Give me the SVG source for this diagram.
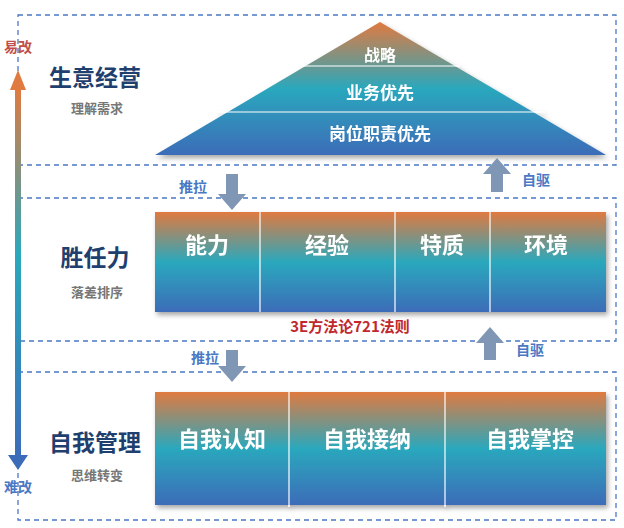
<svg xmlns="http://www.w3.org/2000/svg" width="624" height="528" viewBox="0 0 624 528">
<style>
.dash{fill:none;stroke:#4a78c4;stroke-width:1.3;stroke-dasharray:5,4}
.w{fill:#fff;font-family:"Noto Sans CJK SC",sans-serif;font-weight:bold;text-anchor:middle}
.t{font-family:"Noto Sans CJK SC",sans-serif;font-weight:bold;text-anchor:middle}
.div{stroke:#fff;stroke-width:1.2}
</style>
<defs>
<linearGradient id="g" x1="0" y1="0" x2="0" y2="1">
<stop offset="0" stop-color="#e07a40"/><stop offset="0.5" stop-color="#2aa8bd"/><stop offset="1" stop-color="#3c6cb8"/>
</linearGradient>
<linearGradient id="gv" x1="0" y1="0" x2="0" y2="1">
<stop offset="0" stop-color="#e07a40"/><stop offset="0.45" stop-color="#2aa8bd"/><stop offset="1" stop-color="#3c6cb8"/>
</linearGradient>
<filter id="sh" x="-5%" y="-5%" width="110%" height="115%"><feDropShadow dx="2" dy="3" stdDeviation="2.5" flood-opacity="0.35"/></filter>
</defs>
<g id="frames">
<rect class="dash" x="18" y="15" width="598" height="150"/>
<rect class="dash" x="18" y="198" width="598" height="143"/>
<rect class="dash" x="18" y="372" width="598" height="148"/>
</g>
<g id="axis">
<rect x="15" y="88" width="6" height="372" fill="url(#gv)"/>
<polygon points="10,90 18,70 26,90" fill="#e07a40"/>
<polygon points="8,455 18,470 28,455" fill="#3c6cb8"/>
<text class="t" x="18" y="52" font-size="14" fill="#c0504d">易改</text>
<text class="t" x="18" y="492" font-size="14" fill="#4a78c4">难改</text>
</g>
<g id="labels">
<text class="t" x="95" y="86" font-size="23" fill="#1f3f6e">生意经营</text>
<text class="t" x="97" y="113" font-size="13" fill="#777">理解需求</text>
<text class="t" x="95" y="266" font-size="23" fill="#1f3f6e">胜任力</text>
<text class="t" x="97" y="297" font-size="13" fill="#777">落差排序</text>
<text class="t" x="95" y="451" font-size="23" fill="#1f3f6e">自我管理</text>
<text class="t" x="97" y="480" font-size="13" fill="#777">思维转变</text>
</g>
<g id="pyramid" filter="url(#sh)">
<polygon points="380,22 606,155 155,155" fill="url(#g)"/>
<line class="div" x1="300" y1="66" x2="460" y2="66"/>
<line class="div" x1="216" y1="112" x2="545" y2="112"/>
<text class="w" x="380" y="61" font-size="16">战略</text>
<text class="w" x="380" y="99" font-size="17">业务优先</text>
<text class="w" x="380" y="140" font-size="17">岗位职责优先</text>
</g>
<g id="competence" filter="url(#sh)">
<rect x="155" y="212" width="451" height="100" fill="url(#g)"/>
<line class="div" x1="260" y1="212" x2="260" y2="312"/>
<line class="div" x1="395" y1="212" x2="395" y2="312"/>
<line class="div" x1="490" y1="212" x2="490" y2="312"/>
<text class="w" x="207" y="253" font-size="22">能力</text>
<text class="w" x="327" y="253" font-size="22">经验</text>
<text class="w" x="442" y="253" font-size="22">特质</text>
<text class="w" x="546" y="253" font-size="22">环境</text>
</g>
<text class="t" x="350" y="332" font-size="15" fill="#c0282d">3E方法论721法则</text>
<g id="self" filter="url(#sh)">
<rect x="155" y="392" width="451" height="113" fill="url(#g)"/>
<line class="div" x1="289" y1="392" x2="289" y2="507"/>
<line class="div" x1="445" y1="392" x2="445" y2="507"/>
<text class="w" x="222" y="447" font-size="22">自我认知</text>
<text class="w" x="367" y="447" font-size="22">自我接纳</text>
<text class="w" x="530" y="447" font-size="22">自我掌控</text>
</g>
<g id="connectors" fill="#7f97b5">
<polygon points="226,174 238,174 238,194 246,194 232,210 218,194 226,194"/>
<polygon points="226,350 238,350 238,366 246,366 232,382 218,366 226,366"/>
<polygon points="491,192 503,192 503,174 511,174 497,158 483,174 491,174"/>
<polygon points="484,360 496,360 496,343 504,343 490,327 476,343 484,343"/>
<text class="t" x="193" y="192" font-size="14" fill="#4a78c4">推拉</text>
<text class="t" x="205" y="363" font-size="14" fill="#4a78c4">推拉</text>
<text class="t" x="536" y="185" font-size="14" fill="#4a78c4">自驱</text>
<text class="t" x="530" y="355" font-size="14" fill="#4a78c4">自驱</text>
</g>
</svg>
